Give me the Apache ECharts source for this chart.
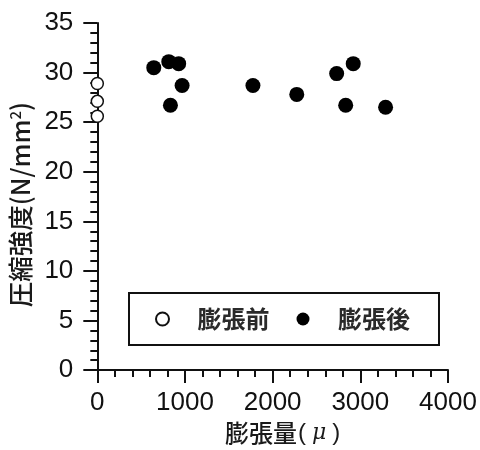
<!DOCTYPE html>
<html>
<head>
<meta charset="utf-8">
<script src="https://cdn.jsdelivr.net/npm/echarts@6/dist/echarts.min.js"></script>
<style>html,body{margin:0;padding:0;background:#fff}#c{width:480px;height:450px}</style>
</head>
<body>
<div id="c"></div>
<script>
// Data
const seriesNames = ['膨張前', '膨張後'];
const beforeX = [0, 0, 0];
const beforeY = [28.9, 27.1, 25.6];
const afterX = [644, 815, 928, 967, 834, 1775, 2275, 2730, 2919, 2833, 3288];
const afterY = [30.5, 31.1, 30.9, 28.7, 26.7, 28.7, 27.8, 29.9, 30.9, 26.7, 26.5];
const xTicks = [0, 1000, 2000, 3000, 4000];
const yTicks = [0, 5, 10, 15, 20, 25, 30, 35];

const pairs = (xs, ys) => xs.map((x, i) => [x, ys[i]]);
const chart = echarts.init(document.getElementById('c'));
const numFont = 'Liberation Sans, Arial, sans-serif';
const cjkFont = '"Noto Sans CJK JP", sans-serif';
chart.setOption({
  animation: false,
  grid: { left: 97, right: 32, top: 23, bottom: 78 },
  xAxis: {
    type: 'value', min: xTicks[0], max: xTicks[xTicks.length - 1], interval: 1000,
    name: '膨張量{p|(}{mu|μ}{p|)}', nameLocation: 'middle', nameGap: 45,
    nameTextStyle: { fontFamily: cjkFont, fontSize: 24, fontWeight: 500, color: '#1a1a1a', padding: [0, 0, 0, 21],
      rich: {
        p: { fontFamily: numFont, fontSize: 24, color: '#1a1a1a', padding: [0, 1, 0, 1] },
        mu: { fontFamily: 'DejaVu Serif', fontStyle: 'italic', fontSize: 22, color: '#1a1a1a', padding: [0, 5, 0, 5] }
      } },
    axisLine: { lineStyle: { color: '#111', width: 2 } },
    axisTick: { length: 13, lineStyle: { color: '#111', width: 2 } },
    minorTick: { show: true, splitNumber: 5, length: 7, lineStyle: { color: '#111', width: 2 } },
    splitLine: { show: false },
    axisLabel: { fontFamily: numFont, fontSize: 26, color: '#111', margin: 20, formatter: v => String(v) }
  },
  yAxis: {
    type: 'value', min: yTicks[0], max: yTicks[yTicks.length - 1], interval: 5,
    name: '圧縮強度(N/mm{sup|2})', nameLocation: 'middle', nameGap: 57, nameRotate: 90,
    nameTextStyle: { fontFamily: cjkFont, fontSize: 25.5, fontWeight: 500, color: '#1a1a1a', padding: [0, 16, 0, 0],
      rich: { sup: { fontFamily: cjkFont, fontSize: 15, color: '#1a1a1a', verticalAlign: 'top', padding: [0, 0, 10, 0] } } },
    axisLine: { lineStyle: { color: '#111', width: 2 } },
    axisTick: { length: 14, lineStyle: { color: '#111', width: 2 } },
    minorTick: { show: true, splitNumber: 5, length: 7, lineStyle: { color: '#111', width: 2 } },
    splitLine: { show: false },
    axisLabel: { fontFamily: numFont, fontSize: 26, color: '#111', margin: 24, formatter: v => String(v) }
  },
  legend: {
    orient: 'horizontal', left: 129, top: 293,
    padding: [14, 29, 14, 26],
    borderColor: '#111', borderWidth: 2,
    itemWidth: 60, itemHeight: 13, itemGap: 27,
    textStyle: { fontFamily: cjkFont, fontSize: 24, fontWeight: 'bold', color: '#2a2a2a' },
    data: seriesNames
  },
  series: [
    { name: seriesNames[0], type: 'scatter', symbol: 'circle', symbolSize: 12, clip: false, z: 5,
      itemStyle: { color: '#fff', borderColor: '#111', borderWidth: 1.5, opacity: 1 },
      data: pairs(beforeX, beforeY) },
    { name: seriesNames[1], type: 'scatter', symbol: 'circle', symbolSize: 15, clip: false, z: 5,
      itemStyle: { color: '#000', opacity: 1 },
      data: pairs(afterX, afterY) }
  ]
});
</script>
</body>
</html>
